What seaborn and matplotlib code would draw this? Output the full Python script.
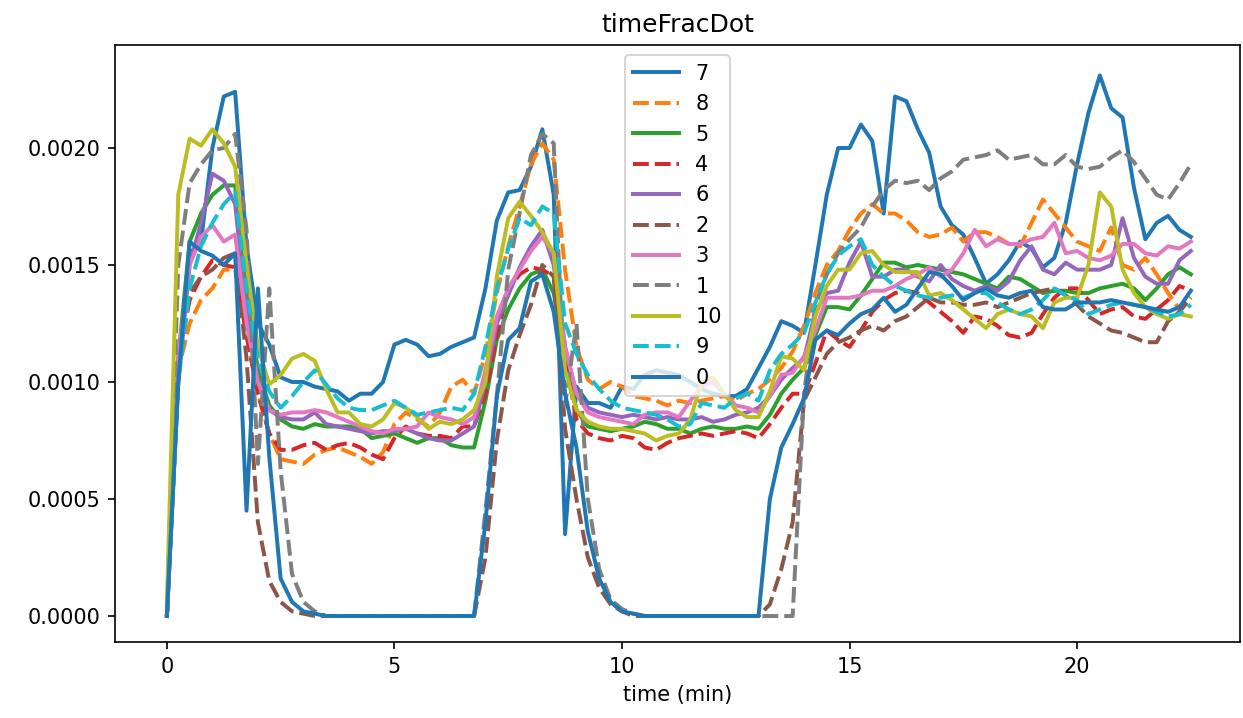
import numpy as np
import pandas as pd
import matplotlib
matplotlib.use("Agg")
import matplotlib.pyplot as plt
import seaborn as sns

# sampling grid of the traces (minutes)
time_min = np.arange(91) * 0.25

# timeFracDot per mouse, in units of 1e-5
m7 = [0, 100, 155, 160, 200, 222, 224, 158, 125, 116,
      102, 100, 100, 98, 97, 96, 92, 95, 95, 100,
      116, 118, 116, 111, 112, 115, 117, 119, 140, 169,
      181, 182, 192, 208, 180, 35, 98, 91, 91, 89,
      98, 97, 103, 105, 104, 103, 100, 97, 95, 94,
      94, 97, 106, 115, 126, 124, 121, 150, 180, 200,
      200, 210, 203, 172, 222, 220, 208, 198, 175, 167,
      163, 153, 142, 146, 152, 160, 157, 149, 153, 168,
      193, 215, 231, 217, 213, 183, 161, 168, 171, 165,
      162]
m8 = [0, 105, 125, 135, 140, 148, 148, 120, 95, 78,
      67, 66, 65, 69, 71, 72, 70, 68, 65, 70,
      82, 87, 84, 81, 87, 98, 101, 95, 112, 138,
      158, 175, 193, 202, 195, 148, 115, 101, 97, 100,
      98, 94, 93, 92, 90, 92, 91, 92, 93, 94,
      92, 95, 97, 101, 106, 113, 124, 138, 150, 156,
      165, 172, 176, 172, 172, 169, 164, 162, 163, 166,
      160, 164, 164, 162, 159, 158, 168, 178, 172, 166,
      160, 158, 156, 166, 150, 148, 153, 146, 138, 131,
      136]
m5 = [0, 110, 160, 172, 180, 184, 184, 140, 105, 90,
      84, 81, 80, 82, 81, 81, 81, 80, 76, 77,
      78, 76, 74, 76, 76, 73, 72, 72, 92, 118,
      131, 140, 146, 148, 138, 110, 88, 81, 80, 79,
      80, 81, 83, 82, 80, 80, 78, 80, 81, 80,
      80, 81, 80, 86, 95, 101, 106, 120, 132, 132,
      131, 137, 144, 151, 151, 149, 150, 149, 148, 147,
      146, 144, 142, 140, 145, 144, 141, 138, 139, 139,
      138, 138, 140, 141, 142, 140, 135, 140, 146, 149,
      146]
m4 = [0, 110, 135, 145, 152, 150, 149, 120, 95, 78,
      71, 71, 73, 74, 71, 73, 74, 72, 69, 67,
      76, 81, 78, 77, 77, 76, 81, 81, 95, 120,
      139, 146, 149, 148, 145, 110, 84, 78, 76, 75,
      77, 76, 72, 71, 74, 76, 77, 78, 77, 78,
      79, 78, 76, 82, 89, 95, 95, 108, 122, 118,
      115, 122, 130, 135, 138, 139, 138, 134, 130, 126,
      121, 128, 127, 124, 120, 119, 121, 129, 136, 140,
      140, 135, 129, 131, 132, 128, 127, 131, 135, 141,
      139]
m6 = [0, 100, 150, 168, 189, 186, 176, 130, 100, 88,
      85, 84, 84, 87, 82, 81, 80, 79, 78, 79,
      79, 80, 78, 76, 75, 75, 78, 81, 100, 125,
      137, 149, 158, 165, 150, 115, 95, 89, 87, 86,
      85, 86, 85, 84, 85, 84, 84, 85, 83, 84,
      86, 87, 89, 94, 101, 106, 110, 130, 138, 139,
      151, 160, 145, 145, 148, 148, 145, 143, 150, 144,
      141, 139, 141, 139, 143, 152, 158, 148, 146, 151,
      148, 148, 148, 150, 170, 153, 145, 142, 142, 152,
      156]
m2 = [0, 110, 138, 145, 148, 153, 155, 110, 40, 15,
      6, 2, 1, 0, 0, 0, 0, 0, 0, 0,
      0, 0, 0, 0, 0, 0, 0, 0, 25, 75,
      105, 120, 133, 150, 145, 80, 50, 25, 12, 5,
      2, 0, 0, 0, 0, 0, 0, 0, 0, 0,
      0, 0, 0, 5, 20, 40, 92, 102, 112, 117,
      119, 122, 124, 122, 126, 128, 132, 136, 134, 134,
      133, 133, 134, 132, 134, 136, 138, 139, 140, 137,
      133, 128, 125, 122, 121, 119, 117, 117, 126, 130,
      136]
m3 = [0, 110, 150, 162, 167, 160, 163, 125, 100, 88,
      86, 87, 87, 88, 87, 85, 83, 81, 79, 78,
      80, 80, 81, 87, 85, 84, 82, 85, 105, 128,
      140, 148, 156, 162, 155, 115, 95, 87, 85, 84,
      83, 82, 86, 87, 87, 85, 92, 98, 100, 95,
      90, 89, 87, 94, 103, 104, 111, 122, 136, 136,
      136, 137, 139, 139, 141, 144, 146, 149, 145, 148,
      155, 165, 158, 161, 159, 159, 161, 162, 168, 155,
      156, 153, 152, 154, 159, 159, 155, 154, 158, 157,
      160]
m1 = [0, 150, 185, 193, 199, 200, 206, 165, 65, 140,
      62, 18, 6, 2, 0, 0, 0, 0, 0, 0,
      0, 0, 0, 0, 0, 0, 0, 0, 45, 94,
      148, 172, 197, 206, 202, 90, 125, 50, 20, 7,
      3, 1, 0, 0, 0, 0, 0, 0, 0, 0,
      0, 0, 0, 0, 0, 0, 95, 133, 146, 155,
      161, 166, 175, 182, 186, 185, 186, 182, 187, 190,
      195, 196, 197, 199, 195, 196, 197, 193, 193, 197,
      192, 191, 192, 196, 199, 194, 187, 180, 178, 185,
      193]
m10 = [5, 180, 204, 201, 208, 202, 192, 150, 115, 99,
       103, 110, 112, 109, 97, 87, 87, 82, 81, 84,
       91, 89, 85, 80, 83, 82, 84, 88, 100, 145,
       170, 177, 171, 164, 155, 105, 88, 83, 81, 80,
       80, 79, 78, 75, 77, 78, 84, 100, 102, 95,
       88, 85, 85, 96, 111, 110, 105, 128, 141, 148,
       148, 155, 156, 150, 147, 147, 147, 137, 138, 135,
       131, 127, 123, 129, 131, 129, 128, 123, 134, 136,
       136, 150, 181, 175, 148, 138, 132, 129, 127, 129,
       128]
m9 = [0, 100, 140, 158, 168, 176, 181, 140, 110, 96,
      89, 94, 100, 105, 99, 93, 89, 88, 88, 90,
      92, 89, 86, 87, 88, 89, 88, 95, 115, 140,
      157, 170, 167, 175, 172, 125, 112, 103, 97, 92,
      89, 88, 87, 86, 84, 81, 82, 91, 90, 89,
      93, 95, 92, 105, 112, 116, 121, 134, 146, 154,
      158, 161, 150, 145, 141, 139, 137, 136, 136, 137,
      136, 138, 138, 134, 131, 129, 131, 135, 140, 137,
      135, 129, 131, 133, 134, 133, 132, 130, 128, 129,
      133]
m0 = [0, 100, 160, 156, 154, 150, 155, 45, 140, 68,
      16, 6, 2, 1, 0, 0, 0, 0, 0, 0,
      0, 0, 0, 0, 0, 0, 0, 0, 40, 94,
      118, 123, 143, 146, 130, 95, 72, 36, 16, 6,
      2, 1, 0, 0, 0, 0, 0, 0, 0, 0,
      0, 0, 0, 50, 72, 82, 93, 118, 122, 120,
      125, 129, 131, 136, 130, 133, 140, 147, 146, 141,
      135, 138, 140, 137, 136, 138, 139, 132, 131, 131,
      134, 134, 134, 135, 134, 133, 132, 131, 130, 132,
      139]

mouse_order = ["7", "8", "5", "4", "6", "2", "3", "1", "10", "9", "0"]
traces = [m7, m8, m5, m4, m6, m2, m3, m1, m10, m9, m0]

frames = []
for name, vals in zip(mouse_order, traces):
    assert len(vals) == len(time_min), name
    frames.append(pd.DataFrame({"time (min)": time_min,
                                "timeFracDot": np.array(vals) * 1e-5,
                                "mouse": name}))
df = pd.concat(frames, ignore_index=True)

tab = sns.color_palette("tab10", 10)
palette = {name: tab[i % 10] for i, name in enumerate(mouse_order)}
dashes = {name: "" if i % 2 == 0 else (4, 1.5) for i, name in enumerate(mouse_order)}

fig = plt.figure(figsize=(1243 / 150, 718 / 150), dpi=150)
ax = fig.add_axes([115 / 1243, 1 - 642 / 718, 1125 / 1243, 597 / 718])

sns.lineplot(data=df, x="time (min)", y="timeFracDot", hue="mouse", style="mouse",
             hue_order=mouse_order, style_order=mouse_order,
             palette=palette, dashes=dashes, estimator=None, errorbar=None,
             linewidth=1.9, ax=ax)

ax.set_xlim(-1.14, 23.58)
ax.set_ylim(-0.000111, 0.00244)
ax.set_xticks([0, 5, 10, 15, 20])
ax.set_ylabel("")
ax.set_title("timeFracDot")
sns.move_legend(ax, "upper center", title=None, handlelength=2.2)

fig.savefig("out.png", dpi=150)
